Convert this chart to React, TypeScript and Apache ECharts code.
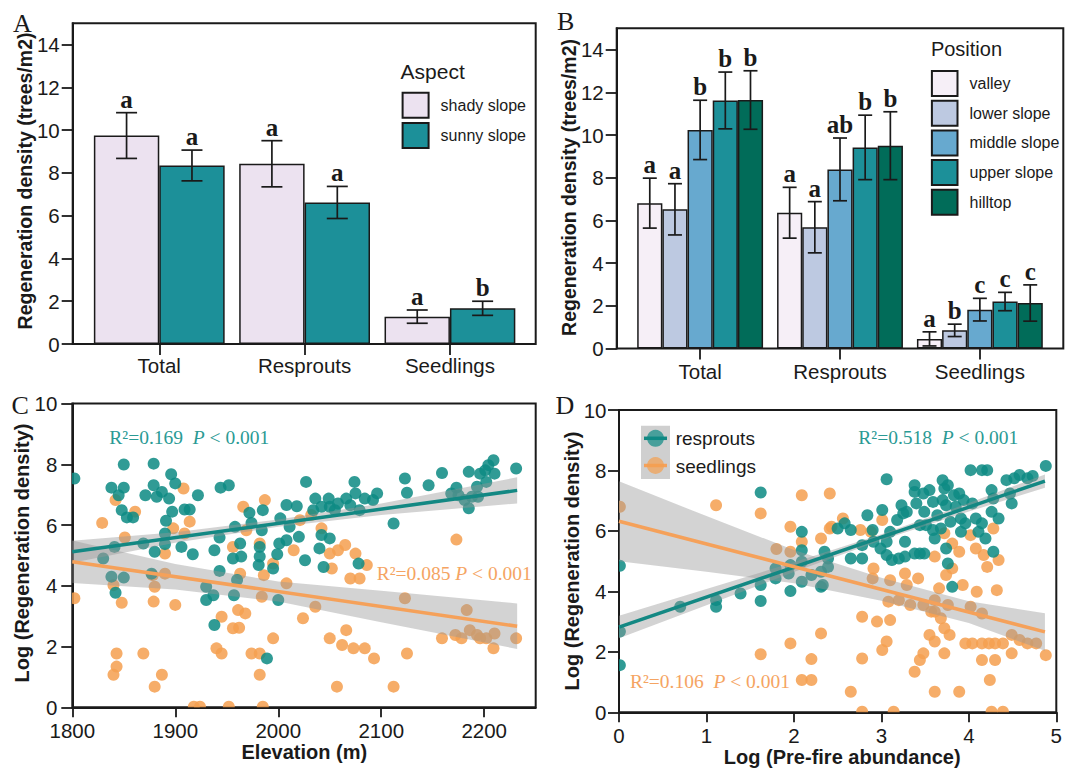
import React, { useEffect, useRef } from 'react';
import * as echarts from 'echarts';

// ---------------- data ----------------
const categories = ['Total', 'Resprouts', 'Seedlings'];
const yTicksAB = [0, 2, 4, 6, 8, 10, 12, 14];

const aspectNames = ['shady slope', 'sunny slope'];
const aspectColors = ['#ece2f0', '#1c9099'];
const aspectMeans = [
  [9.75, 8.43, 1.28],
  [8.35, 6.62, 1.67],
];
const aspectSE = [
  [1.07, 1.08, 0.31],
  [0.72, 0.75, 0.33],
];
const aspectLetters = [
  ['a', 'a', 'a'],
  ['a', 'a', 'b'],
];

const positionNames = ['valley', 'lower slope', 'middle slope', 'upper slope', 'hilltop'];
const positionColors = ['#f6eff7', '#bdc9e1', '#67a9cf', '#1c9099', '#016c59'];
const positionMeans = [
  [6.81, 6.36, 0.45],
  [6.52, 5.68, 0.85],
  [10.24, 8.39, 1.82],
  [11.62, 9.42, 2.2],
  [11.64, 9.5, 2.13],
];
const positionSE = [
  [1.17, 1.19, 0.33],
  [1.2, 1.2, 0.29],
  [1.39, 1.47, 0.53],
  [1.33, 1.51, 0.43],
  [1.37, 1.59, 0.85],
];
const positionLetters = [
  ['a', 'a', 'a'],
  ['a', 'a', 'b'],
  ['b', 'ab', 'c'],
  ['b', 'b', 'c'],
  ['b', 'b', 'c'],
];

// Panel C: elevation vs log regeneration density
const elevTicks = [1800, 1900, 2000, 2100, 2200];
const cResprouts = [
  [1802, 7.53], [1850, 7.99], [1879, 8.02], [1896, 7.67], [1900, 7.37], [1838, 7.23], [1850, 7.23], [1845, 6.98],
  [1879, 7.31], [1871, 6.98], [1887, 7.09], [1882, 6.93], [1894, 6.87], [1922, 6.98], [1848, 6.49], [1859, 6.25],
  [1853, 6.25], [1897, 6.44], [1891, 6.14], [1909, 6.51], [1914, 6.51], [1944, 7.23], [1952, 7.31], [1830, 4.9],
  [1838, 4.3], [1850, 4.27], [1842, 3.77], [1841, 5.28], [1869, 5.39], [1877, 4.4], [1880, 5.12], [1890, 5.72],
  [1890, 5.37], [1906, 5.28], [1917, 5.04], [1938, 5.17], [1943, 5.59], [1943, 4.49], [1930, 3.97], [1937, 3.69],
  [1930, 3.53], [1938, 2.71], [1958, 5.94], [1963, 5.39], [1956, 4.9], [1964, 4.96], [1960, 4.19], [1957, 3.69],
  [1972, 6.4], [1985, 6.49], [1974, 6.07], [1982, 5.28], [1982, 4.96], [1981, 4.68], [1984, 5.83], [1995, 4.57],
  [2001, 5.39], [1989, 1.61], [2000, 3.53], [2008, 6.66], [2018, 6.62], [2002, 6.22], [2011, 5.94], [1999, 5.04],
  [2008, 5.5], [2020, 5.61], [2027, 7.42], [2026, 4.84], [2036, 6.87], [2034, 6.49], [2049, 6.87], [2050, 6.6],
  [2058, 6.71], [2066, 6.87], [2074, 7.42], [2075, 7.04], [2070, 6.65], [2084, 6.87], [2096, 7.04], [2079, 6.49],
  [2092, 6.82], [2055, 6.49], [2042, 6.6], [2042, 5.67], [2050, 5.56], [2040, 5.23], [2044, 4.62], [2078, 4.73],
  [2112, 6.05], [2123, 7.53], [2125, 7.06], [2146, 7.31], [2159, 7.71], [2173, 7.23], [2185, 7.75], [2175, 6.98],
  [2181, 6.82], [2185, 6.55], [2193, 7.26], [2196, 7.69], [2201, 7.8], [2204, 7.97], [2209, 8.13], [2210, 7.69],
  [2202, 7.42], [2194, 6.93], [2231, 7.86], [2188, 6.93], [2168, 7.04],
];
const cSeedlings = [
  [1802, 3.59], [1829, 6.07], [1842, 6.82], [1861, 6.44], [1851, 5.59], [1840, 4.02], [1848, 3.44], [1879, 3.48],
  [1880, 3.97], [1878, 4.35], [1890, 4.4], [1890, 5.06], [1900, 3.37], [1898, 5.89], [1908, 7.2], [1914, 6.11],
  [1909, 5.72], [1843, 1.77], [1843, 1.34], [1840, 1.07], [1869, 1.77], [1887, 1.07], [1880, 0.68], [1918, 0.02],
  [1924, 0.02], [1952, 0.02], [1985, 0.02], [1940, 1.94], [1945, 1.77], [1945, 2.98], [1956, 2.6], [1962, 2.62],
  [1961, 3.2], [1968, 3.09], [1995, 2.27], [1974, 1.77], [1982, 1.77], [1982, 1.07], [1966, 6.6], [1987, 6.82],
  [1969, 5.83], [1982, 5.39], [1963, 4.4], [1984, 3.64], [1986, 4.35], [2008, 4.08], [2024, 2.93], [1956, 5.28],
  [1995, 4.73], [2015, 5.17], [2021, 6.16], [2032, 6.33], [2042, 5.89], [2065, 5.34], [2075, 5.06], [2050, 5.06],
  [2086, 4.68], [2052, 4.57], [2070, 4.24], [2079, 4.24], [2036, 3.31], [2066, 2.54], [2050, 2.27], [2062, 2.05],
  [2073, 1.94], [2084, 1.94], [2093, 1.61], [2057, 0.68], [2112, 0.68], [2123, 3.59], [2125, 1.77], [2173, 5.52],
  [2183, 3.2], [2159, 2.27], [2172, 2.38], [2178, 2.27], [2186, 2.54], [2193, 2.38], [2202, 2.27], [2210, 2.43],
  [2209, 1.94], [2231, 2.27], [2196, 2.27], [2058, 5.17],
];
const cRespLine = [[1800, 5.12], [2232, 7.14]];
const cSeedLine = [[1800, 4.79], [2232, 2.67]];
const cBandX = [1800, 1900, 2000, 2100, 2232];
const cRespUpper = [5.48, 5.76, 6.18, 6.71, 7.57];
const cRespLower = [4.76, 5.42, 5.94, 6.33, 6.71];
const cSeedUpper = [5.49, 4.72, 4.14, 3.84, 3.42];
const cSeedLower = [4.09, 3.88, 3.48, 2.8, 1.92];

// Panel D: log pre-fire abundance vs log regeneration density
const dResprouts = [
  [0.01, 4.85], [0.01, 2.67], [0.01, 1.56], [0.7, 3.49], [1.11, 3.71], [1.11, 3.49], [1.39, 3.93], [1.62, 7.27],
  [1.62, 3.68], [1.62, 4.21], [1.79, 4.76], [1.96, 4.01], [1.96, 4.87], [2.09, 5.97], [2.09, 5.36], [2.09, 4.98],
  [2.09, 4.32], [1.94, 4.59], [2.2, 4.54], [2.31, 4.15], [2.31, 4.65], [2.39, 5.09], [1.79, 4.43], [2.35, 5.31],
  [2.39, 4.81], [2.5, 6.08], [2.58, 6.25], [2.65, 6.03], [2.65, 5.09], [2.78, 5.09], [2.78, 5.53], [2.84, 6.52],
  [2.9, 6.03], [3.01, 6.69], [3.06, 7.71], [2.91, 5.64], [2.99, 5.42], [3.06, 5.2], [3.12, 5.04], [3.2, 5.09],
  [3.27, 5.15], [3.06, 5.64], [3.1, 5.97], [3.23, 6.85], [3.27, 5.64], [3.38, 7.51], [3.38, 7.29], [3.4, 6.91],
  [3.29, 6.63], [3.38, 5.25], [3.44, 5.25], [3.49, 5.25], [3.48, 7.24], [3.55, 7.35], [3.59, 6.96], [3.49, 6.63],
  [3.51, 6.19], [3.59, 6.03], [3.61, 5.75], [3.7, 7.68], [3.72, 7.4], [3.76, 7.51], [3.7, 7.02], [3.74, 6.85],
  [3.64, 6.52], [3.68, 6.08], [3.74, 5.42], [3.76, 4.92], [3.81, 4.15], [3.83, 7.18], [3.89, 7.24], [3.85, 6.8],
  [3.91, 5.97], [3.96, 6.25], [3.91, 6.41], [4.02, 8.01], [4.15, 8.01], [4.21, 8.01], [3.94, 7.02], [4.04, 6.91],
  [4.08, 6.41], [4.15, 6.25], [4.11, 5.97], [4.19, 5.75], [4.26, 7.35], [4.28, 7.07], [4.26, 6.63], [4.34, 6.41],
  [4.28, 5.31], [4.43, 7.68], [4.49, 6.91], [4.47, 7.24], [4.52, 7.74], [4.58, 7.85], [4.67, 7.74], [4.73, 7.82],
  [4.88, 8.15], [3.25, 6.58], [3.18, 6.36], [3.79, 6.3], [3.44, 6.19], [2.33, 4.21],
];
const dSeedlings = [
  [0.01, 6.8], [1.11, 6.85], [1.62, 6.58], [2.09, 7.18], [2.41, 7.24], [1.96, 6.14], [2.09, 5.64], [2.31, 5.75],
  [1.8, 5.4], [1.96, 5.31], [1.62, 1.92], [1.96, 2.28], [2.2, 1.76], [2.31, 2.61], [2.09, 1.07], [2.2, 1.07],
  [2.41, 6.08], [2.56, 6.41], [2.43, 6.14], [2.76, 6.03], [2.88, 5.97], [3.01, 6.36], [2.91, 4.76], [2.9, 4.43],
  [3.1, 4.37], [3.27, 4.59], [3.42, 4.43], [3.29, 4.21], [3.2, 3.71], [3.08, 3.66], [3.33, 3.55], [3.48, 3.55],
  [3.57, 3.33], [3.61, 3.71], [3.66, 4.1], [3.74, 4.54], [3.81, 4.76], [3.76, 3.55], [3.68, 3.11], [3.72, 2.78],
  [3.78, 2.56], [3.55, 2.56], [3.61, 2.34], [3.72, 1.95], [3.48, 1.95], [3.44, 1.73], [2.78, 3.16], [2.95, 3.0],
  [3.1, 3.05], [3.06, 2.34], [3.01, 2.06], [2.78, 1.78], [2.65, 0.68], [2.78, 0.02], [3.14, 0.02], [3.38, 1.34],
  [3.61, 0.68], [3.89, 0.68], [3.96, 2.28], [4.04, 2.28], [4.15, 2.28], [4.23, 2.28], [4.3, 2.28], [4.39, 2.28],
  [4.49, 2.56], [4.58, 2.39], [4.67, 2.28], [4.77, 2.28], [4.15, 1.73], [4.3, 1.73], [4.49, 1.95], [4.88, 1.89],
  [4.24, 1.07], [4.26, 0.02], [4.39, 0.02], [4.02, 5.86], [4.08, 5.42], [4.17, 5.2], [4.28, 6.08], [4.21, 4.81],
  [4.34, 5.04], [4.32, 4.04], [4.09, 3.99], [3.93, 4.21], [4.02, 3.49], [4.15, 3.27], [3.81, 5.58], [3.89, 5.31],
  [3.72, 5.92], [3.61, 5.15], [3.61, 3.33],
];
const dRespLine = [[0, 2.82], [4.87, 7.65]];
const dSeedLine = [[0, 6.32], [4.87, 2.66]];
const dBandX = [0, 1, 2, 3, 4, 4.87];
const dRespUpper = [3.19, 4.08, 4.96, 5.89, 6.92, 7.87];
const dRespLower = [2.45, 3.54, 4.64, 5.69, 6.64, 7.43];
const dSeedUpper = [7.64, 6.49, 5.37, 4.45, 3.67, 3.28];
const dSeedLower = [5.0, 4.65, 4.27, 3.69, 2.95, 2.04];

// ---------------- styling ----------------
const SANS = 'Liberation Sans';
const SERIF = 'Liberation Serif';
const INK = '#1a1a1a';
const TEAL = '#0e8a84';
const ORANGE = '#f4a050';
const TEAL_LINE = '#138883';
const ORANGE_LINE = '#f5a15a';
const TEAL_TEXT = '#2a9a94';
const ORANGE_TEXT = '#f5a462';
const BAND = 'rgba(150,150,150,0.42)';

function errorSeries(name: string, axisIdx: number, nSeries: number, means: number[][], ses: number[][], letters: string[][], capW: number) {
  const data: number[][] = [];
  means.forEach((row, si) => row.forEach((m, ci) => data.push([ci, si, m, ses[si][ci]])));
  return {
    type: 'custom',
    name,
    xAxisIndex: axisIdx,
    yAxisIndex: axisIdx,
    encode: { x: 0, y: 2 },
    z: 5,
    silent: true,
    data,
    renderItem: (params: any, api: any) => {
      const ci = api.value(0);
      const si = api.value(1);
      const m = api.value(2);
      const se = api.value(3);
      const band = api.size([1, 0])[0];
      const bw = (band * 0.9) / nSeries;
      const cx = api.coord([ci, 0])[0] - band * 0.45 + (si + 0.5) * bw;
      const yTop = api.coord([ci, m + se])[1];
      const yBot = api.coord([ci, m - se])[1];
      const st = { stroke: INK, lineWidth: 1.7 };
      const h = capW / 2;
      return {
        type: 'group',
        children: [
          { type: 'line', shape: { x1: cx, y1: yTop, x2: cx, y2: yBot }, style: st },
          { type: 'line', shape: { x1: cx - h, y1: yTop, x2: cx + h, y2: yTop }, style: st },
          { type: 'line', shape: { x1: cx - h, y1: yBot, x2: cx + h, y2: yBot }, style: st },
          {
            type: 'text',
            style: {
              x: cx, y: yTop - 1, text: letters[si][ci], fill: INK,
              fontFamily: SERIF, fontWeight: 'bold', fontSize: 25,
              align: 'center', verticalAlign: 'bottom',
            },
          },
        ],
      };
    },
  };
}

function bandSeries(axisIdx: number, xs: number[], upper: number[], lower: number[]) {
  return {
    type: 'custom',
    xAxisIndex: axisIdx,
    yAxisIndex: axisIdx,
    silent: true,
    clip: true,
    z: 3,
    data: xs.map((x, i) => [x, upper[i]]),
    renderItem: (params: any, api: any) => {
      if (params.dataIndex !== 0) return null;
      const pts: number[][] = [];
      xs.forEach((x, i) => pts.push(api.coord([x, upper[i]])));
      for (let i = xs.length - 1; i >= 0; i--) pts.push(api.coord([xs[i], lower[i]]));
      return { type: 'polygon', shape: { points: pts }, style: { fill: BAND } };
    },
  };
}

// scatter points drawn as clipped circles so that marks on the frame are cut like the original
function scatter(axisIdx: number, data: number[][], color: string, z: number) {
  return {
    type: 'custom',
    xAxisIndex: axisIdx,
    yAxisIndex: axisIdx,
    data,
    clip: true,
    z,
    silent: true,
    encode: { x: 0, y: 1 },
    renderItem: (params: any, api: any) => {
      const p = api.coord([api.value(0), api.value(1)]);
      return {
        type: 'circle',
        shape: { cx: p[0], cy: p[1], r: 6 },
        style: { fill: color, opacity: 0.86 },
      };
    },
  };
}

function regLine(axisIdx: number, data: number[][], color: string) {
  return {
    type: 'line',
    xAxisIndex: axisIdx,
    yAxisIndex: axisIdx,
    data,
    showSymbol: false,
    z: 4,
    silent: true,
    lineStyle: { color, width: 3.5 },
  };
}

function txt(text: string, x: number, y: number, size: number, opts: any = {}) {
  return {
    type: 'text',
    x, y,
    rotation: opts.rotation || 0,
    z: 50,
    style: {
      text,
      fill: opts.fill || INK,
      fontFamily: opts.family || SANS,
      fontWeight: opts.weight || 'normal',
      fontSize: size,
      align: opts.align || 'center',
      verticalAlign: 'middle',
    },
  };
}

function rLabel(r2: string, gap: string, x: number, y: number, color: string) {
  const base = { fontFamily: SERIF, fontSize: 19.5, fill: color, color };
  return {
    type: 'text',
    x, y, z: 50,
    style: {
      text: `{a|R²=${r2}${gap}}{b|P}{a| < 0.001}`,
      fill: color,
      fontFamily: SERIF,
      fontSize: 19.5,
      align: 'left',
      verticalAlign: 'middle',
      rich: { a: base, b: { ...base, fontStyle: 'italic' } },
    },
  };
}

const axisLine = { show: true, lineStyle: { color: INK, width: 2 } };
const tickStyle = { color: INK, width: 1.8 };
const labelBase = { color: INK, fontSize: 20.5, fontFamily: SANS };

function buildOption() {
  const xAxis = [
    {
      type: 'category', gridIndex: 0, data: categories,
      axisLine: { show: false },
      axisTick: { show: true, alignWithLabel: true, length: 11, lineStyle: tickStyle },
      axisLabel: { ...labelBase, margin: 11 },
    },
    {
      type: 'category', gridIndex: 1, data: categories,
      axisLine: { show: false },
      axisTick: { show: true, alignWithLabel: true, length: 11, lineStyle: tickStyle },
      axisLabel: { ...labelBase, margin: 12 },
    },
    {
      type: 'value', gridIndex: 2, min: 1800, max: 2250, interval: 100,
      axisLine, splitLine: { show: false },
      axisTick: { show: true, length: 10, lineStyle: tickStyle, customValues: elevTicks },
      axisLabel: { ...labelBase, margin: 13, formatter: (v: number) => (v > 2200 ? '' : String(v)) },
    },
    {
      type: 'value', gridIndex: 3, min: 0, max: 5, interval: 1,
      axisLine, splitLine: { show: false },
      axisTick: { show: true, length: 10, lineStyle: tickStyle },
      axisLabel: { ...labelBase, margin: 13 },
    },
  ];
  const yAB = (offset: number) => ({
    type: 'value', min: 0, max: 15, interval: 2, offset,
    axisLine, splitLine: { show: false },
    axisTick: { show: true, length: 11, lineStyle: tickStyle, customValues: yTicksAB },
    axisLabel: { ...labelBase, margin: 13, formatter: (v: number) => (v > 14 ? '' : String(v)) },
  });
  const yCD = (margin: number) => ({
    type: 'value', min: 0, max: 10, interval: 2,
    axisLine, splitLine: { show: false },
    axisTick: { show: true, length: 11, lineStyle: tickStyle },
    axisLabel: { ...labelBase, margin },
  });
  const yAxis = [
    { ...yAB(13.9), gridIndex: 0 },
    { ...yAB(13.5), gridIndex: 1 },
    { ...yCD(15), gridIndex: 2 },
    { ...yCD(12.5), gridIndex: 3 },
  ];

  const series: any[] = [];
  aspectNames.forEach((n, si) => {
    series.push({
      type: 'bar', name: n, xAxisIndex: 0, yAxisIndex: 0,
      data: aspectMeans[si], barGap: '0%', barCategoryGap: '10%',
      itemStyle: { color: aspectColors[si], borderColor: INK, borderWidth: 1.5 },
      silent: true,
    });
  });
  series.push(errorSeries('errA', 0, 2, aspectMeans, aspectSE, aspectLetters, 21));
  positionNames.forEach((n, si) => {
    series.push({
      type: 'bar', name: n, xAxisIndex: 1, yAxisIndex: 1,
      data: positionMeans[si], barGap: '0%', barCategoryGap: '10%',
      itemStyle: { color: positionColors[si], borderColor: INK, borderWidth: 1.5 },
      silent: true,
    });
  });
  series.push(errorSeries('errB', 1, 5, positionMeans, positionSE, positionLetters, 14));

  series.push(scatter(2, cSeedlings, ORANGE, 2));
  series.push(scatter(2, cResprouts, TEAL, 2));
  series.push(bandSeries(2, cBandX, cRespUpper, cRespLower));
  series.push(bandSeries(2, cBandX, cSeedUpper, cSeedLower));
  series.push(regLine(2, cRespLine, TEAL_LINE));
  series.push(regLine(2, cSeedLine, ORANGE_LINE));

  series.push(scatter(3, dSeedlings, ORANGE, 2));
  series.push(scatter(3, dResprouts, TEAL, 2));
  series.push(bandSeries(3, dBandX, dRespUpper, dRespLower));
  series.push(bandSeries(3, dBandX, dSeedUpper, dSeedLower));
  series.push(regLine(3, dRespLine, TEAL_LINE));
  series.push(regLine(3, dSeedLine, ORANGE_LINE));

  const legendBase = {
    orient: 'vertical', icon: 'rect', itemHeight: 25, padding: 0,
    textStyle: { color: INK, fontSize: 16, fontFamily: SANS, padding: [0, 0, 0, 7] },
    selectedMode: false,
  };

  const graphic: any[] = [
    { type: 'rect', z: 100, shape: { x: 72.7, y: 23.3, width: 463, height: 320.7 }, style: { fill: 'none', stroke: INK, lineWidth: 2 } },
    { type: 'rect', z: 100, shape: { x: 616.7, y: 28.3, width: 446.6, height: 320.2 }, style: { fill: 'none', stroke: INK, lineWidth: 2 } },
    txt('A', 13, 23.5, 26, { family: SERIF, align: 'left' }),
    txt('B', 557, 21, 26, { family: SERIF, align: 'left' }),
    txt('C', 11.5, 405, 26, { family: SERIF, align: 'left' }),
    txt('D', 555.5, 405.7, 26, { family: SERIF, align: 'left' }),
    txt('Regeneration density (trees/m2)', 24.6, 181, 19.5, { weight: 'bold', rotation: Math.PI / 2 }),
    txt('Regeneration density (trees/m2)', 569.2, 187.5, 19.5, { weight: 'bold', rotation: Math.PI / 2 }),
    txt('Log (Regeneration density)', 22, 553, 20, { weight: 'bold', rotation: Math.PI / 2 }),
    txt('Log (Regeneration density)', 571.8, 561, 20, { weight: 'bold', rotation: Math.PI / 2 }),
    txt('Elevation (m)', 304.3, 751.7, 20, { weight: 'bold' }),
    txt('Log (Pre-fire abundance)', 842.2, 756.7, 20, { weight: 'bold' }),
    txt('Aspect', 400.6, 71, 21, { align: 'left' }),
    txt('Position', 930.9, 49.3, 20, { align: 'left' }),
    rLabel('0.169', '  ', 109.3, 437.7, TEAL_TEXT),
    rLabel('0.085', ' ', 376.7, 573.3, ORANGE_TEXT),
    rLabel('0.518', '  ', 858.3, 437.3, TEAL_TEXT),
    rLabel('0.106', '  ', 630, 681.7, ORANGE_TEXT),
    // panel D legend
    { type: 'rect', z: 40, shape: { x: 641, y: 425.7, width: 29, height: 53.3 }, style: { fill: '#cfcfcf' } },
    { type: 'line', z: 41, shape: { x1: 644, y1: 438.3, x2: 667, y2: 438.3 }, style: { stroke: TEAL_LINE, lineWidth: 3.5 } },
    { type: 'circle', z: 42, shape: { cx: 655.5, cy: 438.3, r: 8.5 }, style: { fill: TEAL, opacity: 0.7 } },
    { type: 'line', z: 41, shape: { x1: 644, y1: 465.5, x2: 667, y2: 465.5 }, style: { stroke: ORANGE_LINE, lineWidth: 3.5 } },
    { type: 'circle', z: 42, shape: { cx: 655.5, cy: 465.5, r: 8.5 }, style: { fill: ORANGE, opacity: 0.7 } },
    txt('resprouts', 675.7, 438.3, 19, { align: 'left' }),
    txt('seedlings', 675.7, 466, 19, { align: 'left' }),
  ];

  return {
    animation: false,
    backgroundColor: '#ffffff',
    textStyle: { fontFamily: SANS },
    grid: [
      { left: 86.6, top: 23.3, width: 436, height: 320.7 },
      { left: 630.2, top: 28.3, width: 419.6, height: 320.2 },
      { left: 72.3, top: 403.5, width: 463.4, height: 303.8, show: true, borderColor: INK, borderWidth: 2, backgroundColor: 'transparent' },
      { left: 619, top: 410, width: 445, height: 302.3, show: true, borderColor: INK, borderWidth: 2, backgroundColor: 'transparent' },
    ],
    xAxis,
    yAxis,
    legend: [
      { ...legendBase, data: aspectNames, left: 401.6, top: 91.7, itemWidth: 26, itemGap: 3.3 },
      { ...legendBase, data: positionNames, left: 930.9, top: 70, itemWidth: 25.6, itemGap: 2.7 },
    ],
    graphic,
    series,
  };
}

export default function App() {
  const ref = useRef<HTMLDivElement>(null);
  useEffect(() => {
    if (!ref.current) return;
    const chart = echarts.init(ref.current, null, { renderer: 'svg' });
    chart.setOption(buildOption() as any);
    return () => chart.dispose();
  }, []);
  return (
    <div
      ref={ref}
      style={{ position: 'absolute', left: 0, top: 0, width: 1065, height: 769, background: '#fff' }}
    />
  );
}
